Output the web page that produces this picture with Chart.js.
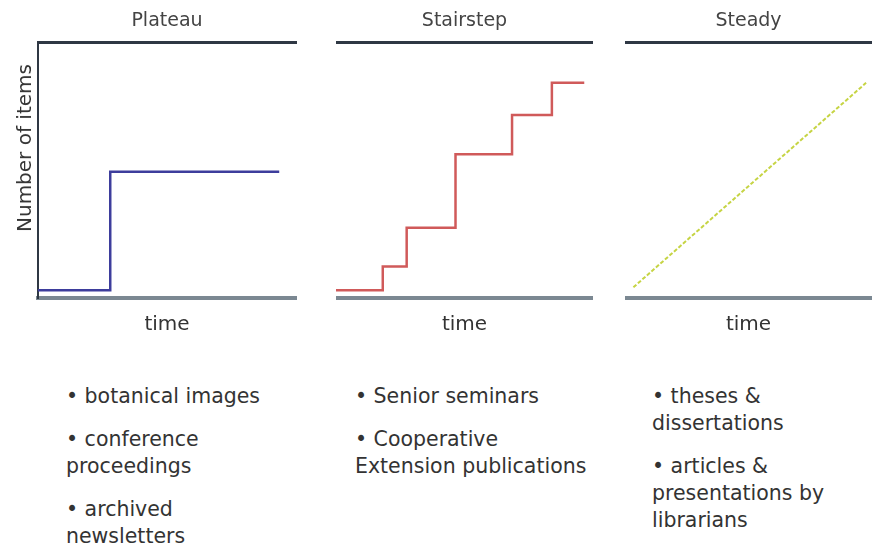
<!DOCTYPE html>
<html>
<head>
<meta charset="utf-8">
<title>Growth patterns</title>
<script src="https://cdn.jsdelivr.net/npm/chart.js@4.4.0/dist/chart.umd.min.js"></script>
<style>
  body { margin: 0; background: #fff; width: 872px; height: 550px; position: relative; overflow: hidden;
         font-family: 'DejaVu Sans', sans-serif; color: #333; }
  .panel { position: absolute; top: 0; height: 345px; }
  .ylabel { position: absolute; left: 24px; top: 148px; transform: translate(-50%, -50%) rotate(-90deg);
            font-size: 20px; white-space: nowrap; color: #333; }
  .list { position: absolute; top: 383px; font-size: 20.5px; line-height: 27px; color: #333; white-space: nowrap; }
  .list p { margin: 0 0 16px 0; }
</style>
</head>
<body>

<div class="panel" style="left:0; width:300px;"><canvas id="plateau"></canvas></div>
<div class="panel" style="left:336px; width:257px;"><canvas id="stairstep"></canvas></div>
<div class="panel" style="left:625px; width:247px;"><canvas id="steady"></canvas></div>
<div class="ylabel">Number of items</div>

<div class="list" style="left:66px;">
  <p>• botanical images</p>
  <p>• conference<br>proceedings</p>
  <p>• archived<br>newsletters</p>
</div>
<div class="list" style="left:355px;">
  <p>• Senior seminars</p>
  <p>• Cooperative<br>Extension publications</p>
</div>
<div class="list" style="left:652px;">
  <p>• theses &amp;<br>dissertations</p>
  <p>• articles &amp;<br>presentations by<br>librarians</p>
</div>

<script>
// --- DATA (time and item count on a 0-100 scale) ---
const panelTitles = ['Plateau', 'Stairstep', 'Steady'];

const plateauTime  = [0, 28, 93.5];
const plateauItems = [3, 49.5, 49.5];

const stairTime  = [0, 18.2, 27.5, 46.5, 68.5, 84, 96.6];
const stairItems = [3, 12.3, 27.5, 56.3, 71.7, 84.3, 84.3];

const steadyTime  = [3.4, 97.6];
const steadyItems = [4.2, 84.3];

// --- HELPERS ---
const FONT = 'DejaVu Sans';
const toPoints = (xs, ys) => xs.map((x, i) => ({ x: x, y: ys[i] }));

function makePanel(id, title, points, line, showLeftAxis) {
    const ctx = document.getElementById(id).getContext('2d');
    return new Chart(ctx, {
        type: 'line',
        data: {
            datasets: [{
                data: points,
                borderColor: line.color,
                borderWidth: line.width,
                borderDash: line.dash || [],
                stepped: line.stepped || false,
                pointRadius: 0,
                fill: false,
                tension: 0
            }]
        },
        options: {
            responsive: true,
            maintainAspectRatio: false,
            animation: false,
            layout: { padding: { top: 0, left: 0, bottom: 0, right: showLeftAxis ? 4 : 0 } },
            plugins: {
                legend: { display: false },
                tooltip: { enabled: false },
                title: {
                    display: true,
                    text: title,
                    fullSize: false,
                    color: '#444',
                    font: { family: FONT, size: 19, weight: 'normal' },
                    padding: { top: 10, bottom: 10 }
                }
            },
            scales: {
                x: {
                    type: 'linear', position: 'bottom', min: 0, max: 100,
                    ticks: { display: false },
                    grid: { display: false, drawTicks: false },
                    border: { display: true, color: '#7b8892', width: 4 },
                    title: {
                        display: true, text: 'time', color: '#333',
                        font: { family: FONT, size: 20, weight: 'normal' },
                        padding: { top: 15, bottom: 8 }
                    }
                },
                x2: {
                    type: 'linear', position: 'top', min: 0, max: 100,
                    ticks: { display: false },
                    grid: { display: false, drawTicks: false },
                    border: { display: true, color: '#2f3844', width: 3 }
                },
                y: {
                    display: showLeftAxis,
                    min: 0, max: 100,
                    ticks: { display: false },
                    grid: { display: false, drawTicks: false },
                    border: { display: true, color: '#2f3844', width: 2 },
                    afterFit: s => { s.width = showLeftAxis ? 38 : 0; }
                }
            }
        }
    });
}

makePanel('plateau', panelTitles[0], toPoints(plateauTime, plateauItems),
    { color: '#3d3d9c', width: 2.5, stepped: true }, true);
makePanel('stairstep', panelTitles[1], toPoints(stairTime, stairItems),
    { color: '#d05a5a', width: 2.5, stepped: true }, false);
makePanel('steady', panelTitles[2], toPoints(steadyTime, steadyItems),
    { color: '#c6d444', width: 2, dash: [4, 2] }, false);
</script>
</body>
</html>
